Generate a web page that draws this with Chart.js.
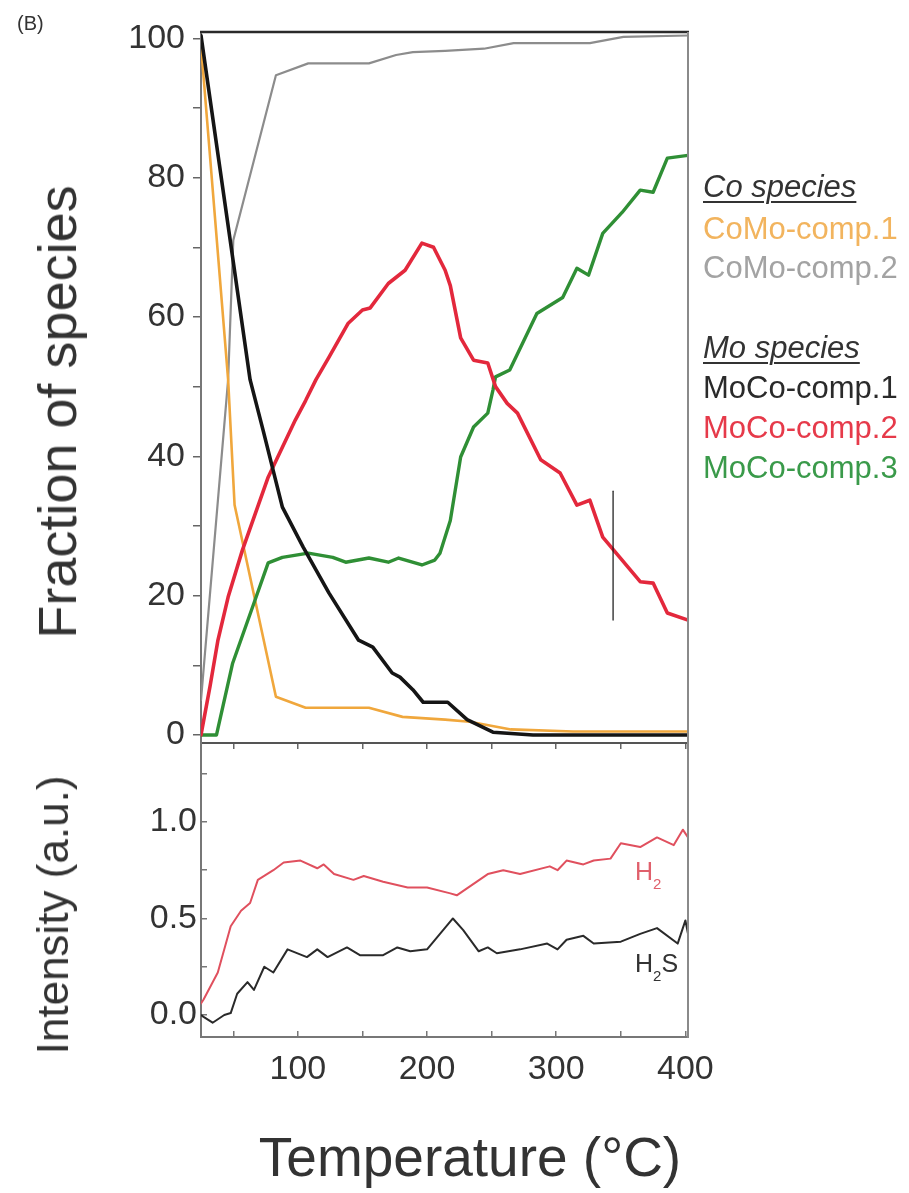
<!DOCTYPE html>
<html><head><meta charset="utf-8">
<script src="https://cdn.jsdelivr.net/npm/chart.js@4/dist/chart.umd.min.js"></script>
<style>
html,body{margin:0;padding:0;background:#fff;}
body{width:909px;height:1193px;position:relative;overflow:hidden;font-family:"Liberation Sans",Arial,sans-serif;color:#333;}
canvas{position:absolute;left:0;}
#c1{top:0}
#c2{top:743px}
.t{position:absolute;white-space:nowrap;line-height:1;}
.rot{transform:translate(-50%,-50%) rotate(-90deg);}
.lg{position:absolute;left:703px;font-size:31px;line-height:1;white-space:nowrap;}
.hd{font-style:italic;text-decoration:underline;text-decoration-thickness:2px;text-underline-offset:4px;color:#333;}
</style></head><body>
<canvas id="c1" width="909" height="760"></canvas>
<canvas id="c2" width="909" height="450"></canvas>

<div class="t" style="left:17px;top:13px;font-size:20px;color:#333">(B)</div>
<div class="t rot" style="left:57px;top:412px;font-size:54px;color:#333">Fraction of species</div>
<div class="t rot" style="left:53px;top:915px;font-size:44px;color:#333">Intensity (a.u.)</div>
<div class="t" style="left:470px;top:1130px;font-size:55px;transform:translateX(-50%);color:#333">Temperature (°C)</div>

<div class="lg hd" style="top:171px">Co species</div>
<div class="lg" style="top:213px;color:#f2b45e">CoMo-comp.1</div>
<div class="lg" style="top:252px;color:#a3a3a3">CoMo-comp.2</div>
<div class="lg hd" style="top:332px">Mo species</div>
<div class="lg" style="top:372px;color:#2a2a2a">MoCo-comp.1</div>
<div class="lg" style="top:412px;color:#e63a4a">MoCo-comp.2</div>
<div class="lg" style="top:452px;color:#3a9a4a">MoCo-comp.3</div>

<div class="t" style="left:635px;top:859px;font-size:25px;color:#e0606c">H<span style="font-size:15px;position:relative;top:9px">2</span></div>
<div class="t" style="left:635px;top:951px;font-size:25px;color:#333">H<span style="font-size:15px;position:relative;top:9px">2</span>S</div>

<script>
// ---- Top panel: fraction of species (%) vs temperature (°C)
const coComp1T = [25, 46, 51, 83, 106, 155, 181, 214, 233, 265, 313, 402];
const coComp1  = [99, 51, 33, 5.5, 3.9, 3.9, 2.6, 2.2, 1.9, 0.8, 0.5, 0.5];

const coComp2T = [25, 46, 50, 83, 108, 155, 176, 189, 214, 244, 267, 326, 352, 402];
const coComp2  = [5, 51, 71, 94.7, 96.4, 96.4, 97.6, 98.0, 98.2, 98.5, 99.3, 99.3, 100.2, 100.4];

const moComp1T = [25, 63, 73, 88, 104, 124, 147, 158, 173, 179, 189, 197, 216, 231, 251, 282, 402];
const moComp1  = [100.4, 51, 43.8, 32.7, 27, 20.4, 13.6, 12.6, 8.9, 8.3, 6.5, 4.7, 4.7, 2.2, 0.4, 0, 0];

const moComp2T = [25, 32, 38, 46, 57, 77, 98, 106, 114, 124, 139, 150, 156, 170, 183, 196, 205, 214, 218, 226, 236, 247, 253, 262, 270, 288, 303, 316, 326, 336, 365, 375, 386, 402];
const moComp2  = [0, 7, 13.5, 19.8, 26.5, 37, 45.2, 48, 51, 54.2, 59.1, 61, 61.3, 64.8, 66.7, 70.6, 70.0, 66.7, 64.5, 57, 53.8, 53.4, 50, 47.6, 46.2, 39.5, 37.6, 33, 33.7, 28.4, 22, 21.8, 17.5, 16.5];

const moComp3T = [25, 37, 49.5, 65, 77, 88, 108, 127, 137, 155, 170, 178, 196, 206, 210, 218, 226, 236, 247, 251, 253, 264, 285, 305, 316, 325, 336, 351, 365, 375, 386, 402];
const moComp3  = [0, 0, 10.3, 18.4, 24.7, 25.5, 26.1, 25.5, 24.8, 25.4, 24.8, 25.4, 24.4, 25.1, 26.1, 30.8, 39.9, 44.2, 46.2, 49.5, 51.4, 52.4, 60.5, 62.8, 67, 66, 72, 75, 78.2, 77.9, 82.8, 83.2];

// stray vertical mark present in the source figure
const markT = [344, 344];
const markV = [16.5, 35];

// ---- Bottom panel: MS intensity (a.u.)
const h2T  = [25, 27, 38, 48, 56, 63, 69, 81, 89, 102, 115, 120, 128, 143, 151, 166, 185, 200, 218, 223, 247, 259, 272, 295, 301, 308, 321, 329, 342, 350, 365, 378, 391, 398, 402];
const h2   = [0.06, 0.08, 0.22, 0.46, 0.54, 0.58, 0.70, 0.75, 0.79, 0.80, 0.76, 0.78, 0.73, 0.70, 0.72, 0.69, 0.66, 0.66, 0.63, 0.62, 0.73, 0.75, 0.73, 0.77, 0.75, 0.80, 0.78, 0.80, 0.81, 0.89, 0.87, 0.92, 0.88, 0.96, 0.92];

const h2sT = [25, 27, 34, 43, 48, 53, 61, 66, 74, 81, 92, 107, 115, 123, 138, 148, 166, 177, 187, 200, 220, 228, 240, 247, 254, 272, 293, 301, 308, 321, 329, 350, 365, 378, 394, 400, 402];
const h2s  = [0.0, -0.01, -0.04, 0.0, 0.01, 0.11, 0.17, 0.13, 0.25, 0.22, 0.34, 0.30, 0.34, 0.30, 0.35, 0.31, 0.31, 0.35, 0.33, 0.34, 0.50, 0.44, 0.33, 0.35, 0.32, 0.34, 0.37, 0.34, 0.39, 0.41, 0.37, 0.38, 0.42, 0.45, 0.37, 0.49, 0.42];

const xTickLabels = [100, 200, 300, 400];
const yTopTickLabels = [0, 20, 40, 60, 80, 100];
const yBotTickLabels = [0.0, 0.5, 1.0];

const pts = (xs, ys) => xs.map((x, i) => ({x, y: ys[i]}));
const FONT = "'Liberation Sans', Arial, sans-serif";

const framePlugin = {
  id: 'frame',
  afterDraw(chart, args, o) {
    const {ctx, chartArea: a} = chart;
    ctx.save();
    if (o.top) {
      ctx.strokeStyle = '#2a2a2a'; ctx.lineWidth = 2.5;
      ctx.beginPath(); ctx.moveTo(a.left - 1, a.top); ctx.lineTo(a.right + 1, a.top); ctx.stroke();
    }
    ctx.strokeStyle = '#8a8a8a'; ctx.lineWidth = 2;
    ctx.beginPath(); ctx.moveTo(a.right, a.top); ctx.lineTo(a.right, a.bottom + 1); ctx.stroke();
    ctx.restore();
  }
};

const zeroPad = s => { s.paddingTop = 0; s.paddingBottom = 0; s.paddingLeft = 0; s.paddingRight = 0; };

function ds(label, xs, ys, color, width) {
  return {label, data: pts(xs, ys), borderColor: color, borderWidth: width,
          pointRadius: 0, tension: 0, fill: false, borderJoinStyle: 'round', borderCapStyle: 'round'};
}

new Chart(document.getElementById('c1'), {
  type: 'line',
  data: { datasets: [
    ds('mark', markT, markV, '#111', 1.2),
    ds('MoCo-comp.1', moComp1T, moComp1, '#151515', 3.6),
    ds('MoCo-comp.2', moComp2T, moComp2, '#e3283c', 3.6),
    ds('MoCo-comp.3', moComp3T, moComp3, '#2f8f35', 3.4),
    ds('CoMo-comp.1', coComp1T, coComp1, '#f0a73c', 2.6),
    ds('CoMo-comp.2', coComp2T, coComp2, '#8c8c8c', 2.2)
  ]},
  options: {
    responsive: false, animation: false, devicePixelRatio: 1,
    layout: {padding: {left: 0, right: 221, top: 32, bottom: 0}},
    plugins: {legend: {display: false}, tooltip: {enabled: false}, frame: {top: true}},
    scales: {
      x: {
        type: 'linear', min: 25, max: 402,
        afterFit: s => { s.height = 17; zeroPad(s); },
        ticks: {display: false, stepSize: 50, includeBounds: false},
        grid: {drawOnChartArea: false, drawTicks: true, tickLength: 6, color: '#666', lineWidth: 1.5},
        border: {display: true, color: '#555', width: 2}
      },
      y: {
        min: -1.15, max: 100.9,
        afterFit: s => { s.width = 201; zeroPad(s); },
        ticks: {stepSize: 10, includeBounds: false, padding: 8, color: '#333',
                font: {family: FONT, size: 34},
                callback: v => yTopTickLabels.includes(v) ? String(v) : ''},
        grid: {drawOnChartArea: false, drawTicks: true, tickLength: 8, color: '#666', lineWidth: 1.5},
        border: {display: true, color: '#777', width: 2}
      }
    }
  },
  plugins: [framePlugin]
});

new Chart(document.getElementById('c2'), {
  type: 'line',
  data: { datasets: [
    ds('H2S', h2sT, h2s, '#2a2a2a', 2),
    ds('H2', h2T, h2, '#e0505e', 2)
  ]},
  options: {
    responsive: false, animation: false, devicePixelRatio: 1,
    layout: {padding: {left: 0, right: 221, top: 0, bottom: 0}},
    plugins: {legend: {display: false}, tooltip: {enabled: false}, frame: {top: false}},
    scales: {
      x: {
        type: 'linear', min: 25, max: 402,
        afterFit: s => { s.height = 156; zeroPad(s); },
        ticks: {stepSize: 50, includeBounds: false, padding: 18, color: '#333', maxRotation: 0,
                font: {family: FONT, size: 34},
                callback: v => xTickLabels.includes(v) ? String(v) : ''},
        grid: {drawOnChartArea: false, drawTicks: true, tickLength: -6, color: '#777', lineWidth: 1.5},
        border: {display: true, color: '#777', width: 2}
      },
      y: {
        min: -0.114, max: 1.409,
        afterFit: s => { s.width = 201; zeroPad(s); },
        ticks: {stepSize: 0.25, includeBounds: false, padding: 10, color: '#333',
                font: {family: FONT, size: 34},
                callback: v => yBotTickLabels.some(t => Math.abs(t - v) < 1e-6) ? v.toFixed(1) : ''},
        grid: {drawOnChartArea: false, drawTicks: true, tickLength: -6, color: '#777', lineWidth: 1.5},
        border: {display: true, color: '#777', width: 2}
      }
    }
  },
  plugins: [framePlugin]
});
</script>
</body></html>
